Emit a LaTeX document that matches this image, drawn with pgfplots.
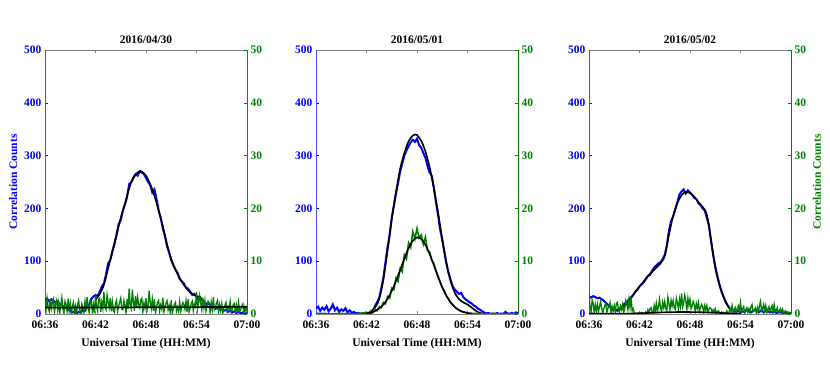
\documentclass[border=0pt]{standalone}
\usepackage{fontspec}
\setmainfont{Liberation Serif}
\usepackage{pgfplots}
\pgfplotsset{compat=1.18}

\definecolor{cblue}{rgb}{0,0,1}
\definecolor{cgreen}{rgb}{0,0.5,0}
\definecolor{cteal}{rgb}{0.16,0.42,0.40}
\newcommand\fs{\fontsize{11.5}{13}\selectfont\bfseries}

\pgfplotsset{
  base/.style={
    scale only axis, width=202pt, height=264pt,
    anchor=south west,
    xmin=0, xmax=24,
    separate axis lines,
    tick align=inside,
    major tick length=3pt,
    tick label style={font=\fs, /pgf/number format/assume math mode=true},
    label style={font=\fs},
    title style={font=\fs, yshift=-3pt},
  },
  left/.style={
    base,
    axis y line*=left,
    ymin=0, ymax=500, ytick={0,100,...,500},
    y axis line style={cblue!70, line width=0.8pt},
    x axis line style={gray, line width=0.8pt},
    y tick style={cblue},
    x tick style={gray},
    yticklabel style={text=cblue},
    xtick={0,6,12,18,24},
    xticklabels={06:36,06:42,06:48,06:54,07:00},
    xticklabel style={yshift=-3pt},
    xlabel={Universal Time (HH:MM)},
    xlabel style={yshift=-3pt},
  },
  right/.style={
    base,
    axis y line*=right,
    axis x line=none,
    ymin=0, ymax=50, ytick={0,10,...,50},
    y axis line style={#1, line width=0.8pt},
    y tick style={cgreen},
    yticklabel style={text=cgreen},
  },
  blueline/.style={cblue, line width=2pt},
  greenline/.style={cgreen, line width=1.3pt},
  fitline/.style={black, line width=1.6pt, smooth},
}

% ---------- 2016/04/30 ----------
\pgfplotstableread{
t y
0.00 27
0.25 29
0.50 24
0.75 28
1.00 25
1.25 22
1.50 24
1.75 19
2.00 17
2.25 14
2.50 11
2.75 9
3.00 6
3.25 3
3.50 5
3.75 1
4.00 4
4.25 2
4.50 8
4.75 6
5.00 13
5.25 18
5.50 29
5.75 33
6.00 36
6.25 34
6.50 42
6.75 52
7.00 58
7.25 75
7.50 96
7.75 102
8.00 118
8.25 132
8.50 150
8.75 170
9.00 178
9.25 196
9.50 208
9.75 222
10.00 246
10.25 250
10.50 258
10.75 265
11.00 262
11.25 270
11.50 268
11.75 265
12.00 258
12.25 250
12.50 244
12.75 230
13.00 236
13.25 218
13.50 196
13.75 182
14.00 162
14.25 148
14.50 128
14.75 116
15.00 102
15.25 92
15.50 84
15.75 78
16.00 66
16.25 62
16.50 58
16.75 50
17.00 48
17.25 42
17.50 36
17.75 38
18.00 32
18.25 28
18.50 30
18.75 24
19.00 22
19.25 18
19.50 20
19.75 14
20.00 15
20.25 10
20.50 12
20.75 8
21.00 10
21.25 6
21.50 8
21.75 4
22.00 6
22.25 3
22.50 5
22.75 2
23.00 4
23.25 1
23.50 3
23.75 0
24.00 2
}\blueA

% ---------- 2016/05/01 ----------
\pgfplotstableread{
t y
0.00 10
0.25 14
0.50 6
0.75 12
1.00 8
1.25 15
1.50 5
1.75 10
2.00 18
2.25 7
2.50 12
2.75 4
3.00 9
3.25 6
3.50 11
3.75 3
4.00 7
4.25 2
4.50 4
4.75 1
5.00 2
5.25 0
5.50 1
5.75 0
6.00 1
6.25 0
6.50 2
6.75 3
7.00 15
7.25 22
7.50 30
7.75 48
8.00 68
8.25 98
8.50 126
8.75 150
9.00 182
9.25 205
9.50 228
9.75 248
10.00 270
10.25 285
10.50 300
10.75 310
11.00 318
11.25 325
11.50 330
11.75 326
12.00 332
12.25 320
12.50 315
12.75 305
13.00 296
13.25 280
13.50 268
13.75 262
14.00 240
14.25 212
14.50 188
14.75 160
15.00 140
15.25 118
15.50 96
15.75 78
16.00 64
16.25 52
16.50 46
16.75 42
17.00 38
17.25 40
17.50 32
17.75 28
18.00 25
18.25 22
18.50 20
18.75 16
19.00 14
19.25 10
19.50 8
19.75 5
20.00 3
20.25 1
20.50 2
20.75 0
21.00 1
21.25 0
21.50 2
21.75 0
22.00 1
22.25 0
22.50 4
22.75 1
23.00 0
23.25 2
23.50 0
23.75 3
24.00 1
}\blueB

\pgfplotstableread{
t y
0.00 0.1
1.00 0.1
2.00 0.0
3.00 0.1
4.00 0.0
5.00 0.1
5.50 0.2
6.00 0.3
6.25 0.1
6.50 0.5
6.75 0.4
7.00 0.9
7.25 0.6
7.50 1.4
7.75 1.2
8.00 2.2
8.25 1.9
8.50 3.3
8.75 3.0
9.00 4.9
9.25 4.6
9.50 6.8
9.75 6.2
10.00 8.6
10.25 8.0
10.50 11.2
10.75 10.4
11.00 13.5
11.25 12.6
11.50 15.6
11.75 14.2
12.00 16.2
12.25 14.4
12.50 15.0
12.75 13.2
13.00 14.6
13.25 12.0
13.50 11.8
13.75 10.2
14.00 9.6
14.25 8.2
14.50 7.2
14.75 6.0
15.00 5.0
15.25 4.4
15.50 3.4
15.75 2.9
16.00 2.2
16.25 1.8
16.50 1.3
16.75 1.0
17.00 0.8
17.25 0.5
17.50 0.4
17.75 0.3
18.00 0.2
18.50 0.1
19.00 0.1
20.00 0.0
21.00 0.1
22.00 0.0
23.00 0.1
24.00 0.0
}\greenB

% ---------- 2016/05/02 ----------
\pgfplotstableread{
t y
0.00 33
0.25 31
0.50 34
0.75 32
1.00 30
1.25 31
1.50 28
1.75 25
2.00 21
2.25 17
2.50 13
2.75 10
3.00 8
3.25 7
3.50 9
3.75 12
4.00 15
4.25 20
4.50 22
4.75 28
5.00 32
5.25 36
5.50 42
5.75 46
6.00 52
6.25 56
6.50 60
6.75 66
7.00 72
7.25 74
7.50 82
7.75 88
8.00 92
8.25 96
8.50 98
8.75 104
9.00 112
9.25 130
9.50 158
9.75 176
10.00 185
10.25 198
10.50 212
10.75 226
11.00 232
11.25 236
11.50 228
11.75 234
12.00 230
12.25 226
12.50 220
12.75 218
13.00 210
13.25 206
13.50 200
13.75 196
14.00 182
14.25 168
14.50 138
14.75 112
15.00 90
15.25 72
15.50 56
15.75 42
16.00 32
16.25 22
16.50 16
16.75 10
17.00 8
17.25 5
17.50 4
17.75 6
18.00 3
18.25 5
18.50 4
18.75 8
19.00 5
19.25 3
19.50 6
19.75 8
20.00 5
20.25 4
20.50 7
20.75 3
21.00 6
21.25 4
21.50 5
21.75 3
22.00 5
22.25 2
22.50 4
22.75 3
23.00 2
23.25 3
23.50 1
23.75 2
24.00 2
}\blueC

\begin{document}
\begin{tikzpicture}[x=1pt,y=1pt]

% ===== panel 1 =====
\begin{axis}[left, at={(45pt,68pt)}, title={2016/04/30},
  ylabel={Correlation Counts}, ylabel style={text=cblue}]
  \addplot[blueline] table {\blueA};
  \addplot[fitline] coordinates {(6,27) (6.5,38) (7,55) (7.5,86) (8,118) (8.5,150)
    (9,182) (9.5,208) (10,238) (10.5,258) (11,268) (11.3,271) (11.5,270) (12,262)
    (12.5,246) (13,224) (13.5,196) (14,166) (14.5,132) (15,104) (15.5,84) (16,68)
    (16.5,55) (17,45) (17.5,38) (18,34) (18.5,32)};
\end{axis}
\begin{axis}[right=cteal, at={(45pt,68pt)}]
  \addplot[greenline] coordinates {
    (0.000,2.5) (0.125,0.8) (0.250,3.0) (0.375,1.2) (0.500,0.5) (0.625,2.8) (0.750,1.0) (0.875,2.2)
    (1.000,2.8) (1.125,0.3) (1.250,1.9) (1.375,2.6) (1.500,0.8) (1.625,2.2) (1.750,0.2) (1.875,1.5)
    (2.000,3.1) (2.125,1.0) (2.250,0.2) (2.375,2.4) (2.500,1.8) (2.625,0.5) (2.750,2.9) (2.875,0.6)
    (3.000,2.0) (3.125,0.0) (3.250,1.4) (3.375,2.2) (3.500,0.4) (3.625,1.5) (3.750,0.2) (3.875,1.8)
    (4.000,2.6) (4.125,0.5) (4.250,0.1) (4.375,1.9) (4.500,1.2) (4.625,0.3) (4.750,2.4) (4.875,0.6)
    (5.000,3.2) (5.125,1.1) (5.250,0.3) (5.375,2.5) (5.500,2.4) (5.625,0.4) (5.750,1.8) (5.875,0.2)
    (6.000,3.5) (6.125,1.5) (6.250,0.6) (6.375,2.8) (6.500,3.0) (6.625,0.4) (6.750,2.2) (6.875,1.0)
    (7.000,4.2) (7.125,1.3) (7.250,0.8) (7.375,3.6) (7.500,2.2) (7.625,1.2) (7.750,3.0) (7.875,0.5)
    (8.000,2.4) (8.125,0.6) (8.250,0.3) (8.375,2.0) (8.500,2.6) (8.625,0.5) (8.750,1.5) (8.875,2.2)
    (9.000,3.0) (9.125,0.9) (9.250,0.8) (9.375,2.5) (9.500,1.7) (9.625,0.2) (9.750,2.8) (9.875,1.0)
    (10.000,4.8) (10.125,1.6) (10.250,1.0) (10.375,4.6) (10.500,2.4) (10.625,0.6) (10.750,3.4) (10.875,1.2)
    (11.000,3.2) (11.125,1.8) (11.250,1.2) (11.375,2.6) (11.500,3.0) (11.625,0.4) (11.750,2.0) (11.875,1.1)
    (12.000,3.0) (12.125,0.7) (12.250,1.6) (12.375,4.4) (12.500,2.2) (12.625,1.0) (12.750,2.8) (12.875,0.6)
    (13.000,2.8) (13.125,0.3) (13.250,1.2) (13.375,2.2) (13.500,2.6) (13.625,0.6) (13.750,1.7) (13.875,0.9)
    (14.000,3.1) (14.125,0.4) (14.250,1.4) (14.375,2.0) (14.500,2.5) (14.625,0.8) (14.750,1.6) (14.875,0.3)
    (15.000,2.6) (15.125,0.2) (15.250,1.0) (15.375,1.8) (15.500,2.2) (15.625,0.6) (15.750,1.3) (15.875,0.5)
    (16.000,2.4) (16.125,0.5) (16.250,1.5) (16.375,2.2) (16.500,1.8) (16.625,0.9) (16.750,2.5) (16.875,0.4)
    (17.000,2.8) (17.125,0.4) (17.250,1.1) (17.375,2.0) (17.500,2.4) (17.625,0.6) (17.750,1.9) (17.875,1.4)
    (18.000,4.2) (18.125,1.0) (18.250,2.2) (18.375,3.5) (18.500,2.0) (18.625,0.8) (18.750,3.1) (18.875,1.2)
    (19.000,2.6) (19.125,0.5) (19.250,1.6) (19.375,2.4) (19.500,2.0) (19.625,0.3) (19.750,2.2) (19.875,0.8)
    (20.000,3.2) (20.125,0.8) (20.250,1.2) (20.375,2.1) (20.500,2.6) (20.625,0.4) (20.750,1.8) (20.875,0.6)
    (21.000,2.0) (21.125,0.2) (21.250,1.1) (21.375,1.6) (21.500,2.2) (21.625,0.5) (21.750,1.4) (21.875,0.9)
    (22.000,2.4) (22.125,0.2) (22.250,0.9) (22.375,1.8) (22.500,2.0) (22.625,0.1) (22.750,1.6) (22.875,0.4)
    (23.000,2.2) (23.125,0.4) (23.250,0.8) (23.375,1.5) (23.500,1.9) (23.625,0.2) (23.750,1.3) (23.875,0.5)
    (24.000,1.6)};
  \addplot[black, line width=1.6pt] coordinates {(0,1.2) (24,1.35)};
\end{axis}

% ===== panel 2 =====
\begin{axis}[left, at={(316pt,68pt)}, title={2016/05/01}]
  \addplot[blueline] table {\blueB};
  \addplot[fitline] coordinates {(6,0) (6.5,5) (7,12) (7.5,28) (8,65) (8.5,120)
    (9,180) (9.5,230) (10,275) (10.5,305) (11,327) (11.5,338) (11.8,340) (12,339)
    (12.5,328) (13,308) (13.5,278) (14,238) (14.5,192) (15,142) (15.5,95) (16,62)
    (16.5,40) (17,28) (17.5,22) (18,18) (18.5,12) (19,6) (19.5,2) (20,0)};
\end{axis}
\begin{axis}[right=cgreen, at={(316pt,68pt)}]
  \addplot[greenline, line width=1.6pt] table {\greenB};
  \addplot[fitline] coordinates {(6,0.14) (6.5,0.29) (7,0.56) (7.5,1.03) (8,1.77)
    (8.5,2.87) (9,4.37) (9.5,6.2) (10,8.36) (10.5,10.5) (11,12.47) (11.5,13.86)
    (12,14.5) (12.5,14.2) (13,13.1) (13.5,11.35) (14,9.24) (14.5,7.06) (15,5.07)
    (15.5,3.42) (16,2.17) (16.5,1.29) (17,0.72) (17.5,0.38) (18,0.19) (18.5,0.08)};
\end{axis}

% ===== panel 3 =====
\begin{axis}[left, at={(589pt,68pt)}, title={2016/05/02}]
  \addplot[blueline] table {\blueC};
  \addplot[fitline] coordinates {(3.3,5) (4,12) (4.5,20) (5,30) (5.5,42) (6,52)
    (6.5,62) (7,72) (7.5,80) (8,88) (8.5,96) (9,110) (9.5,150) (10,186) (10.5,210)
    (11,225) (11.5,231) (12,229) (12.5,222) (13,212) (13.5,203) (14,188) (14.5,140)
    (15,88) (15.5,55) (16,32) (16.5,15) (16.7,10)};
\end{axis}
\begin{axis}[right=cgreen, at={(589pt,68pt)},
  ylabel={Correlation Counts}, ylabel style={text=cgreen}]
  \addplot[greenline] coordinates {
    (0.000,3.8) (0.125,1.2) (0.250,0.5) (0.375,2.6) (0.500,2.0) (0.625,0.2) (0.750,1.8) (0.875,0.6)
    (1.000,1.8) (1.125,0.4) (1.250,1.4) (1.375,2.4) (1.500,1.2) (1.625,0.1) (1.750,0.9) (1.875,1.6)
    (2.000,2.0) (2.125,0.3) (2.250,1.1) (2.375,1.5) (2.500,2.2) (2.625,0.2) (2.750,1.4) (2.875,0.5)
    (3.000,1.6) (3.125,0.5) (3.250,2.0) (3.375,2.2) (3.500,0.9) (3.625,0.4) (3.750,1.5) (3.875,0.8)
    (4.000,1.8) (4.125,0.3) (4.250,1.2) (4.375,2.6) (4.500,2.0) (4.625,0.8) (4.750,2.8) (4.875,1.2)
    (5.000,3.2) (5.125,0.6) (5.250,1.0) (5.375,0.2) (5.500,0.1) (5.625,0.0) (5.750,0.2) (5.875,0.1)
    (6.000,0.1) (6.125,0.0) (6.250,0.3) (6.375,0.2) (6.500,0.0) (6.625,0.1) (6.750,0.4) (6.875,0.0)
    (7.000,0.8) (7.125,0.1) (7.250,1.0) (7.375,1.2) (7.500,0.3) (7.625,0.2) (7.750,1.6) (7.875,0.5)
    (8.000,2.0) (8.125,0.5) (8.250,1.4) (8.375,2.8) (8.500,1.0) (8.625,0.6) (8.750,2.2) (8.875,1.2)
    (9.000,2.4) (9.125,1.0) (9.250,0.7) (9.375,3.2) (9.500,2.0) (9.625,0.8) (9.750,2.6) (9.875,1.5)
    (10.000,2.6) (10.125,1.2) (10.250,0.9) (10.375,3.0) (10.500,2.1) (10.625,0.9) (10.750,2.8) (10.875,1.4)
    (11.000,3.9) (11.125,1.4) (11.250,2.2) (11.375,3.6) (11.500,2.5) (11.625,0.8) (11.750,3.0) (11.875,1.6)
    (12.000,2.8) (12.125,1.0) (12.250,1.5) (12.375,2.4) (12.500,1.8) (12.625,0.5) (12.750,2.0) (12.875,1.1)
    (13.000,2.2) (13.125,0.6) (13.250,1.2) (13.375,1.8) (13.500,1.4) (13.625,0.3) (13.750,1.6) (13.875,0.7)
    (14.000,1.6) (14.125,0.4) (14.250,0.9) (14.375,1.2) (14.500,1.0) (14.625,0.2) (14.750,0.8) (14.875,0.4)
    (15.000,1.0) (15.125,0.1) (15.250,0.5) (15.375,0.6) (15.500,0.3) (15.625,0.0) (15.750,0.4) (15.875,0.1)
    (16.000,0.3) (16.125,0.0) (16.250,0.2) (16.375,0.6) (16.500,0.0) (16.625,0.3) (16.750,1.0) (16.875,0.4)
    (17.000,1.6) (17.125,0.3) (17.250,0.8) (17.375,1.2) (17.500,0.4) (17.625,0.9) (17.750,1.5) (17.875,0.4)
    (18.000,2.2) (18.125,0.5) (18.250,1.0) (18.375,1.4) (18.500,0.2) (18.625,0.8) (18.750,1.2) (18.875,0.3)
    (19.000,1.0) (19.125,0.3) (19.250,1.4) (19.375,1.8) (19.500,0.4) (19.625,0.6) (19.750,1.1) (19.875,0.2)
    (20.000,1.2) (20.125,0.2) (20.250,1.6) (20.375,2.4) (20.500,0.6) (20.625,1.0) (20.750,1.8) (20.875,0.5)
    (21.000,1.6) (21.125,0.3) (21.250,0.9) (21.375,1.4) (21.500,0.2) (21.625,1.1) (21.750,1.6) (21.875,0.3)
    (22.000,1.8) (22.125,0.4) (22.250,0.7) (22.375,1.2) (22.500,0.1) (22.625,0.6) (22.750,1.0) (22.875,0.2)
    (23.000,0.9) (23.125,0.2) (23.250,0.5) (23.375,0.6) (23.500,0.1) (23.625,0.4) (23.750,0.3) (23.875,0.1)
    (24.000,0.3)};
  \addplot[fitline] coordinates {(0,0.1) (2,0.05) (4,0.05) (5,0.08) (7,0.2) (9,0.32)
    (11,0.38) (13,0.34) (15,0.24) (17,0.1) (18,0.05)};
\end{axis}

\pgfresetboundingbox
\path (0,0) rectangle (830,382);
\end{tikzpicture}
\end{document}
